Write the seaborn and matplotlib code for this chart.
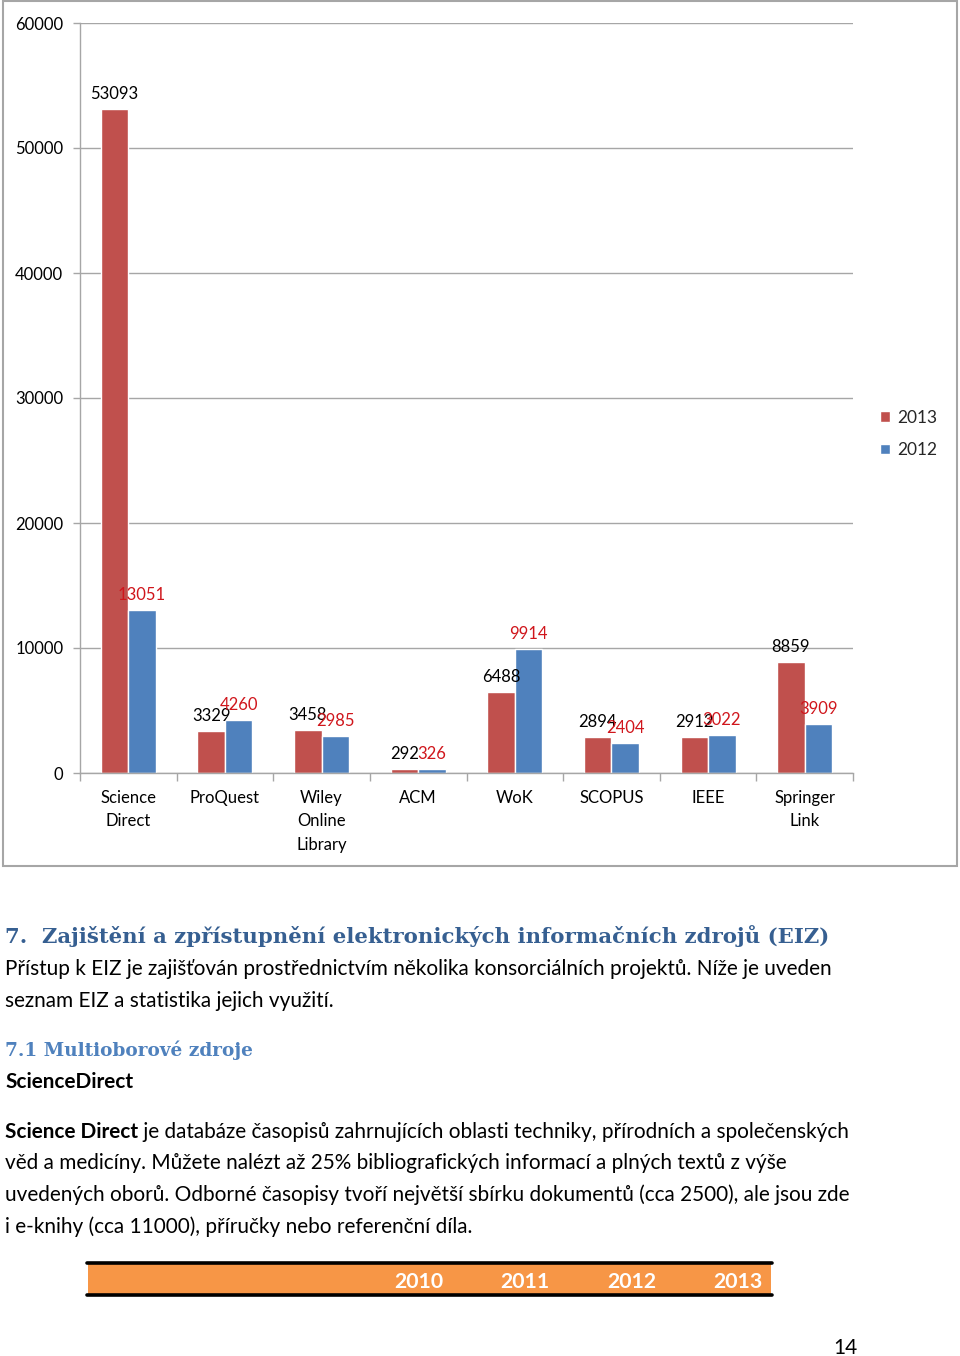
import numpy as np
import pandas as pd
import matplotlib
matplotlib.use("Agg")
import matplotlib.pyplot as plt
import seaborn as sns
from matplotlib.patches import Rectangle
from matplotlib.lines import Line2D

# ---------------- data ----------------
categories = ["Science\nDirect", "ProQuest", "Wiley\nOnline\nLibrary", "ACM",
              "WoK", "SCOPUS", "IEEE", "Springer\nLink"]
years = ["2013", "2012"]
values_2013 = [53093, 3329, 3458, 292, 6488, 2894, 2912, 8859]
values_2012 = [13051, 4260, 2985, 326, 9914, 2404, 3022, 3909]
yticks = [0, 10000, 20000, 30000, 40000, 50000, 60000]
table_years = ["2010", "2011", "2012", "2013"]

RED = "#C0504D"
BLUE = "#4F81BD"
LABEL_RED = "#D0161C"
GRID = "#A6A6A6"

W, H = 960, 1356
sns.set_theme(style="white")
plt.rcParams['font.family'] = ['Lato', 'DejaVu Sans']

fig = plt.figure(figsize=(W / 100, H / 100), dpi=100)
fig.patch.set_facecolor("white")


def fx(x):
    return x / W


def fy(y):
    return 1 - y / H


# ---------------- chart ----------------
ax = fig.add_axes([fx(80), fy(773), fx(853) - fx(80), fy(23) - fy(773)])
df = pd.DataFrame({
    "Zdroj": categories * 2,
    "Počet": values_2013 + values_2012,
    "Rok": [years[0]] * len(categories) + [years[1]] * len(categories),
})
sns.barplot(data=df, x="Zdroj", y="Počet", hue="Rok", hue_order=years,
            palette=[RED, BLUE], width=0.57, gap=0, saturation=1,
            errorbar=None, legend=False, ax=ax, zorder=2)

ax.set_xlim(-0.5, len(categories) - 0.5)
ax.set_ylim(0, 60000)
ax.set_yticks(yticks)
ax.set_yticklabels([str(v) for v in yticks])
ax.set_xlabel("")
ax.set_ylabel("")
ax.yaxis.grid(True, color=GRID, lw=1)
ax.xaxis.grid(False)
ax.set_axisbelow(True)
for s in ["top", "right"]:
    ax.spines[s].set_visible(False)
for s in ["left", "bottom"]:
    ax.spines[s].set_color(GRID)
    ax.spines[s].set_linewidth(1)

ax.tick_params(axis="y", left=True, direction="out", length=5, width=1,
               color=GRID, pad=7, labelsize=12, labelcolor="black")
ax.tick_params(axis="x", which="major", bottom=False, length=0, pad=12,
               labelsize=12, labelcolor="black")
ax.set_xticks(np.arange(-0.5, len(categories), 1), minor=True)
ax.tick_params(axis="x", which="minor", bottom=True, direction="out",
               length=6, width=1, color=GRID)
for lab in ax.get_xticklabels():
    lab.set_linespacing(1.6)

# value labels
ax.bar_label(ax.containers[0], labels=[str(v) for v in values_2013],
             padding=5, fontsize=12, color="black", zorder=3)
ax.bar_label(ax.containers[1], labels=[str(v) for v in values_2012],
             padding=5, fontsize=12, color=LABEL_RED, zorder=3)

# legend
handles = [Rectangle((0, 0), 1, 1, facecolor=RED), Rectangle((0, 0), 1, 1, facecolor=BLUE)]
fig.legend(handles, years, loc="center left", bbox_to_anchor=(fx(880), fy(434)),
           frameon=False, handlelength=0.55, handleheight=0.55,
           handletextpad=0.45, labelspacing=0.95, fontsize=12.5,
           borderaxespad=0, borderpad=0)

# chart frame
fig.add_artist(Rectangle((fx(3), fy(866)), fx(957) - fx(3), fy(1) - fy(866),
                         transform=fig.transFigure, fill=False,
                         edgecolor=GRID, lw=1.5))

# ---------------- text below ----------------
renderer = fig.canvas.get_renderer()


def fit(x, y, s, target_w, size0=12, **kw):
    t = fig.text(fx(x), fy(y), s, fontsize=size0, va="baseline", ha="left", **kw)
    w = t.get_window_extent(renderer).width
    t.set_fontsize(size0 * target_w / w)
    return t


h1 = fit(5, 943, "7.  Zajištění a zpřístupnění elektronických informačních zdrojů (EIZ)",
         825, family=["DejaVu Serif"], fontweight="bold", color="#365F91")
t1 = fit(5, 975, "Přístup k EIZ je zajišťován prostřednictvím několika konsorciálních projektů. Níže je uveden",
         826, color="black")
bs = t1.get_fontsize()
fig.text(fx(5), fy(1007), "seznam EIZ a statistika jejich využití.", fontsize=bs,
         va="baseline", ha="left", color="black")
fit(5, 1056, "7.1 Multioborové zdroje", 247,
    family=["DejaVu Serif"], fontweight="bold", color="#4F81BD")
fig.text(fx(5), fy(1088), "ScienceDirect", fontsize=bs, fontweight="bold",
         va="baseline", ha="left", color="black")

tb = fig.text(fx(5), fy(1138), "Science Direct", fontsize=bs, fontweight="bold",
              va="baseline", ha="left", color="black")
fig.add_artist(matplotlib.text.Annotation(
    " je databáze časopisů zahrnujících oblasti techniky, přírodních a společenských",
    xy=(1, 0), xycoords=tb, va="bottom", ha="left", fontsize=bs, color="black"))
para = [
    "věd a medicíny. Můžete nalézt až 25% bibliografických informací a plných textů z výše",
    "uvedených oborů. Odborné časopisy tvoří největší sbírku dokumentů (cca 2500), ale jsou zde",
    "i e-knihy (cca 11000), příručky nebo referenční díla.",
]
for i, line in enumerate(para):
    fig.text(fx(5), fy(1169 + 32 * i), line, fontsize=bs, va="baseline",
             ha="left", color="black")

# table header
fig.add_artist(Rectangle((fx(88), fy(1294)), fx(771) - fx(88), fy(1264) - fy(1294),
                         transform=fig.transFigure, facecolor="#F79646",
                         edgecolor="none"))
for yy in (1263, 1295):
    fig.add_artist(Line2D([fx(87), fx(772)], [fy(yy), fy(yy)],
                          transform=fig.transFigure, color="black", lw=2.6))
for xc, yr in zip([419, 525, 632, 738], table_years):
    fig.text(fx(xc), fy(1288), yr, fontsize=bs * 1.02, fontweight="bold",
             color="white", ha="center", va="baseline")

# page number
fig.text(fx(845), fy(1354), "14", fontsize=bs, ha="center", va="baseline",
         color="black")

fig.savefig("out.png", dpi=100, facecolor="white")
